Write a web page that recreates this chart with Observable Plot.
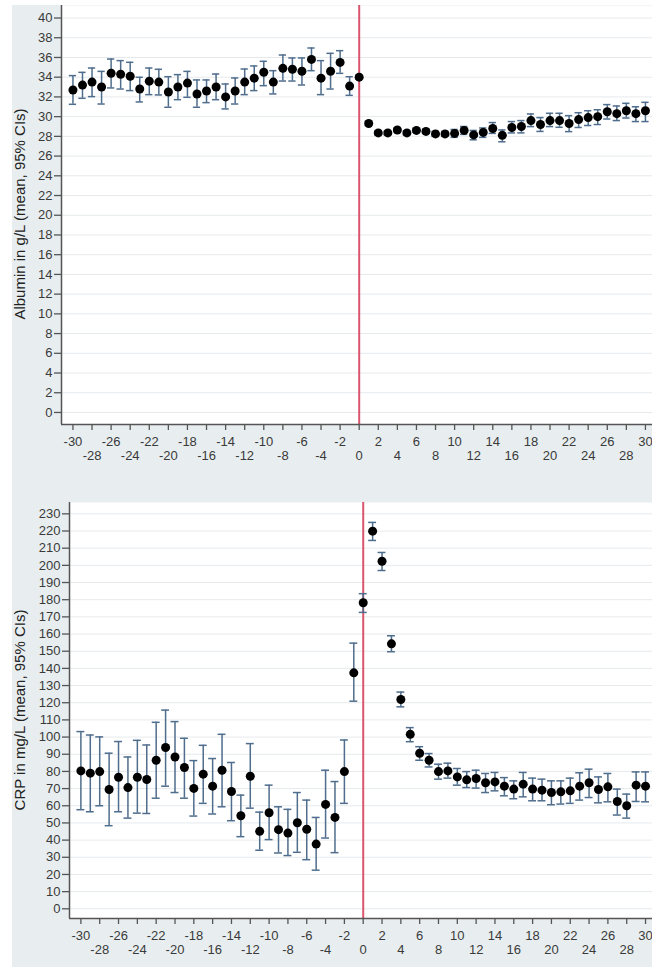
<!DOCTYPE html>
<html><head><meta charset="utf-8">
<script src="https://cdn.jsdelivr.net/npm/d3@7"></script>
<script src="https://cdn.jsdelivr.net/npm/@observablehq/plot@0.6"></script>
<style>
body{margin:0;background:#fff;}
#wrap{position:relative;width:652px;height:969px;overflow:hidden;}
#bg{position:absolute;left:12px;top:5px;width:640px;height:962px;background:#e8eef0;}
.panel{position:absolute;left:0;}
.ylab{position:absolute;width:400px;height:18px;line-height:18px;text-align:center;font:15px "Liberation Sans",Arial,sans-serif;color:#222;transform:rotate(-90deg);transform-origin:center;white-space:nowrap;}
</style></head>
<body>
<div id="wrap">
  <div id="bg"></div>
  <div id="p1" class="panel" style="top:0"></div>
  <div id="p2" class="panel" style="top:480px"></div>
  <div class="ylab" style="left:-180px;top:205px">Albumin in g/L (mean, 95% CIs)</div>
  <div class="ylab" style="left:-180px;top:701px">CRP in mg/L (mean, 95% CIs)</div>
</div>
<script>
// Days relative to event (x = 0)
const days = [-30,-29,-28,-27,-26,-25,-24,-23,-22,-21,-20,-19,-18,-17,-16,-15,-14,-13,-12,-11,-10,-9,-8,-7,-6,-5,-4,-3,-2,-1,
  0,1,2,3,4,5,6,7,8,9,10,11,12,13,14,15,16,17,18,19,20,21,22,23,24,25,26,27,28,29,30];

// Albumin (g/L): mean and 95% CI
const albMean = [32.7,33.2,33.5,33.0,34.4,34.3,34.1,32.8,33.6,33.5,32.5,33.0,33.4,32.3,32.6,33.0,32.0,32.6,33.5,33.9,34.5,33.5,34.9,34.8,34.6,35.8,33.9,34.6,35.5,33.1,
  34.0,29.3,28.35,28.35,28.65,28.35,28.6,28.5,28.25,28.25,28.3,28.6,28.15,28.4,28.8,28.1,28.9,29.0,29.6,29.2,29.6,29.6,29.3,29.7,29.9,30.0,30.5,30.3,30.6,30.3,30.6];
const albLo = [31.25,31.86,32.03,31.28,32.91,32.8,32.64,31.49,32.23,32.2,30.95,31.72,31.96,30.95,31.42,31.72,30.78,31.28,32.23,32.64,33.14,32.3,33.61,33.61,33.21,34.66,32.23,32.8,34.39,32.16,
  33.8,29.1,28.15,28.15,28.45,28.15,28.4,28.3,28.0,28.0,27.9,28.2,27.65,27.9,28.3,27.45,28.35,28.35,28.99,28.5,28.99,28.92,28.48,28.9,29.1,29.2,29.76,29.6,29.86,29.5,29.5];
const albHi = [34.16,34.49,34.93,34.59,35.84,35.68,35.51,33.99,34.93,34.8,34.05,34.26,34.59,33.72,33.72,34.32,33.31,33.92,34.83,35.14,35.61,34.66,36.25,35.95,35.95,36.96,35.68,36.42,36.69,34.05,
  34.2,29.5,28.55,28.55,28.85,28.55,28.8,28.7,28.5,28.5,28.7,29.0,28.6,28.85,29.4,28.65,29.5,29.6,30.27,29.9,30.34,30.34,30.1,30.4,30.6,30.7,31.22,31.08,31.35,31.0,31.45];

// CRP (mg/L): mean and 95% CI
const crpMean = [80.3,79.0,79.9,69.5,76.6,70.6,76.6,75.3,86.5,93.9,88.4,82.3,70.1,78.4,71.4,80.7,68.3,54.2,77.2,45.1,55.9,46.1,44.1,50.1,46.3,37.7,60.8,53.2,79.9,137.4,
  178.2,219.9,202.4,154.3,121.9,101.6,90.6,86.5,79.9,80.3,76.8,75.1,75.9,73.4,73.9,71.4,69.7,72.6,69.7,69.1,67.7,68.1,68.7,71.4,73.4,69.5,71.0,62.5,60.0,72.0,71.4];
const crpLo = [57.7,56.5,60.0,48.4,56.5,52.8,55.7,55.5,64.4,71.4,67.7,64.4,54.0,61.4,55.2,59.4,51.3,42.0,58.6,34.1,40.3,32.5,31.0,32.9,28.6,22.5,41.2,32.7,61.4,120.9,
  172.6,214.5,197.0,149.7,117.6,97.3,86.5,82.6,75.5,76.1,72.0,70.6,70.3,67.7,68.7,65.8,64.1,65.2,62.9,62.9,60.6,61.0,61.4,63.3,64.8,61.7,62.3,54.6,52.8,62.5,62.3];
const crpHi = [103.2,101.2,100.1,90.6,97.4,88.4,98.1,95.4,108.6,115.7,109.0,99.3,86.3,95.2,87.5,101.6,85.2,66.2,96.2,56.3,72.0,59.4,57.9,67.7,63.3,53.2,80.7,74.1,98.3,154.7,
  183.5,225.0,207.5,159.0,126.2,105.5,94.4,90.4,84.2,84.8,81.7,79.9,80.7,78.8,79.4,76.4,74.5,79.4,76.1,75.5,74.5,74.5,76.1,79.2,81.3,76.8,78.8,69.7,66.8,79.7,79.7];

// Axis tick labels
const xTicksAll = [-30,-28,-26,-24,-22,-20,-18,-16,-14,-12,-10,-8,-6,-4,-2,0,2,4,6,8,10,12,14,16,18,20,22,24,26,28,30];
const xLabelsRow1 = [-30,-26,-22,-18,-14,-10,-6,-2,2,6,10,14,18,22,26,30];
const xLabelsRow2 = [-28,-24,-20,-16,-12,-8,-4,0,4,8,12,16,20,24,28];
const albTicks = [0,2,4,6,8,10,12,14,16,18,20,22,24,26,28,30,32,34,36,38,40];
const crpTicks = [0,10,20,30,40,50,60,70,80,90,100,110,120,130,140,150,160,170,180,190,200,210,220,230];
const eventDay = [0];

const errColor = "#4f6d8c";
const axisColor = "#555";
const font = '"Liberation Sans", Arial, sans-serif';
const fmt = d => String(d); // plain hyphen-minus like the original

function panel({mean, lo, hi, yTicks, xDomain, yDomain, height, marginLeft, marginTop, marginBottom, capHalf}) {
  const data = days.map((d, i) => ({day: d, mean: mean[i], lo: lo[i], hi: hi[i]}));
  return Plot.plot({
    width: 652, height,
    marginLeft, marginRight: 0, marginTop, marginBottom,
    x: {domain: xDomain},
    y: {domain: yDomain},
    style: {background: "transparent", fontFamily: font, fontSize: "13px", overflow: "visible"},
    marks: [
      Plot.frame({fill: "white", stroke: null}),
      Plot.gridY(yTicks, {stroke: "#e6eaed", strokeOpacity: 1, strokeWidth: 1}),
      Plot.ruleX(eventDay, {stroke: "#d9566e", strokeWidth: 2}),
      Plot.ruleX(data, {x: "day", y1: "lo", y2: "hi", stroke: errColor, strokeWidth: 1.5}),
      Plot.ruleY(data, {y: "lo", x1: d => d.day - capHalf, x2: d => d.day + capHalf, stroke: errColor, strokeWidth: 1.5}),
      Plot.ruleY(data, {y: "hi", x1: d => d.day - capHalf, x2: d => d.day + capHalf, stroke: errColor, strokeWidth: 1.5}),
      Plot.dot(data, {x: "day", y: "mean", r: 4.5, fill: "#000", stroke: null}),
      Plot.axisY({ticks: yTicks, tickSize: 7, tickPadding: 2, tickFormat: fmt, label: null, fontSize: 13, color: "#3a3a3a", stroke: axisColor, strokeWidth: 1.3}),
      Plot.axisX({ticks: xTicksAll, tickSize: 6, tickFormat: () => "", label: null, stroke: axisColor, strokeWidth: 1.3}),
      Plot.axisX({ticks: xLabelsRow1, tickSize: 0, tickPadding: 12, tickFormat: fmt, label: null, fontSize: 13, color: "#3a3a3a"}),
      Plot.axisX({ticks: xLabelsRow2, tickSize: 0, tickPadding: 26, tickFormat: fmt, label: null, fontSize: 13, color: "#3a3a3a"}),
      Plot.ruleX([xDomain[0]], {stroke: axisColor, strokeWidth: 1.5}),
      Plot.ruleY([yDomain[0]], {stroke: axisColor, strokeWidth: 1.5})
    ]
  });
}

document.getElementById("p1").append(panel({
  mean: albMean, lo: albLo, hi: albHi, yTicks: albTicks,
  xDomain: [-31.2, 30.74], yDomain: [-1.22, 41.27],
  height: 480, marginLeft: 61, marginTop: 5, marginBottom: 56, capHalf: 0.38
}));
document.getElementById("p2").append(panel({
  mean: crpMean, lo: crpLo, hi: crpHi, yTicks: crpTicks,
  xDomain: [-31.21, 30.74], yDomain: [-5.65, 236.6],
  height: 489, marginLeft: 69, marginTop: 22, marginBottom: 51, capHalf: 0.42
}));
</script>
</body></html>
